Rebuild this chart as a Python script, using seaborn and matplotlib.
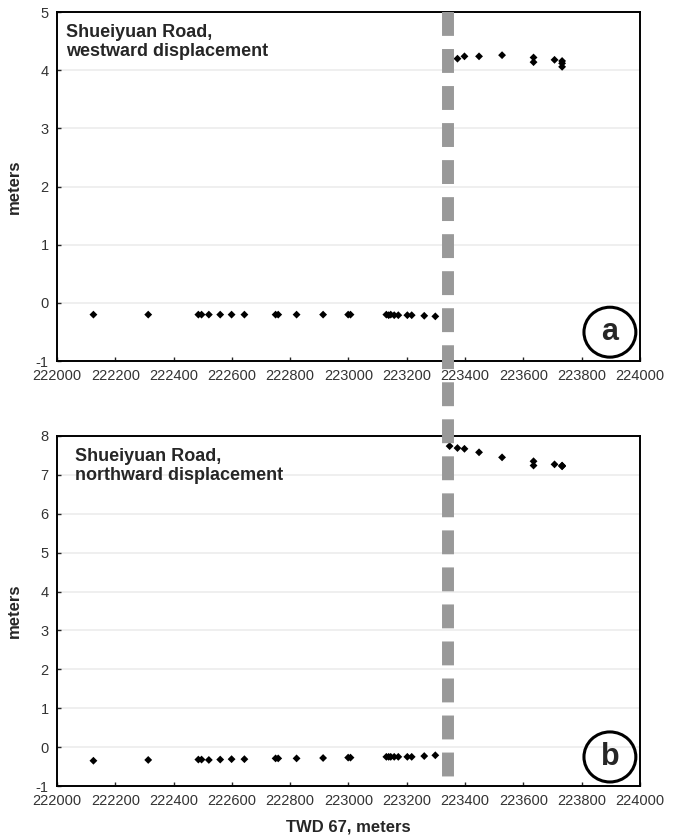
import numpy as np
import pandas as pd
import seaborn as sns
from matplotlib import pyplot as plt
from matplotlib.lines import Line2D
from matplotlib.patches import Ellipse
from matplotlib.transforms import blended_transform_factory

# TWD 67 easting of surveyed points along Shueiyuan Road
easting = [222125, 222313, 222485, 222496, 222521, 222560, 222599, 222643,
           222750, 222759, 222822, 222913, 222999, 223007, 223130, 223138,
           223145, 223157, 223171, 223202, 223217, 223260, 223298,
           223347, 223374, 223398, 223448, 223527, 223635, 223635,
           223707, 223733, 223733, 223733]

west_disp = [-0.20, -0.20, -0.20, -0.20, -0.20, -0.20, -0.20, -0.20,
             -0.20, -0.20, -0.20, -0.20, -0.20, -0.20, -0.20, -0.21,
             -0.20, -0.21, -0.21, -0.21, -0.21, -0.22, -0.23,
             4.20, 4.20, 4.24, 4.24, 4.26, 4.22, 4.14,
             4.18, 4.16, 4.12, 4.06]

north_disp = [-0.35, -0.33, -0.32, -0.32, -0.33, -0.32, -0.31, -0.31,
              -0.29, -0.29, -0.29, -0.28, -0.27, -0.27, -0.25, -0.25,
              -0.25, -0.25, -0.25, -0.25, -0.25, -0.23, -0.21,
              7.74, 7.69, 7.67, 7.58, 7.45, 7.35, 7.24,
              7.27, 7.24, 7.22, 7.23]

fault_x = 223340

panels = [
    dict(y=west_disp, ylim=(-1, 5), title='Shueiyuan Road,\nwestward displacement',
         tx=0.016, tag='a', rect=[0.0832, 0.568, 0.851, 0.4175]),
    dict(y=north_disp, ylim=(-1, 8), title='Shueiyuan Road,\nnorthward displacement',
         tx=0.031, tag='b', rect=[0.0832, 0.0598, 0.851, 0.4187]),
]

sns.set_style('white')
plt.rcParams['font.family'] = ['Liberation Sans', 'DejaVu Sans']
plt.rcParams['axes.unicode_minus'] = False

fig = plt.figure(figsize=(6.85, 8.36), dpi=100)

axes = []
for p in panels:
    ax = fig.add_axes(p['rect'])
    df = pd.DataFrame({'x': easting, 'y': p['y']})
    sns.scatterplot(data=df, x='x', y='y', marker='D', s=16, color='black',
                    edgecolor='none', ax=ax, zorder=3)
    ax.set_xlim(222000, 224000)
    ax.set_ylim(*p['ylim'])
    ax.set_xticks(np.arange(222000, 224001, 200))
    ax.set_yticks(np.arange(p['ylim'][0], p['ylim'][1] + 1, 1))
    ax.yaxis.grid(True, color='#ececec', linewidth=1.2)
    ax.xaxis.grid(False)
    for s in ax.spines.values():
        s.set_color('black')
        s.set_linewidth(1.4)
    ax.tick_params(axis='both', direction='in', length=3, width=1,
                   labelsize=10.5, labelcolor='#333333', pad=6,
                   bottom=True, left=True)
    ax.set_xlabel('')
    ax.set_ylabel('meters', fontsize=12, fontweight='bold', labelpad=10)
    ax.text(p['tx'], 0.965, p['title'], transform=ax.transAxes, ha='left',
            va='top', fontsize=13, fontweight='bold', linespacing=1.1)
    ax.add_patch(Ellipse((0.9485, 0.083), 0.089, 0.143, transform=ax.transAxes,
                         fill=False, edgecolor='black', linewidth=2.2, zorder=5))
    ax.text(0.9485, 0.083, p['tag'], transform=ax.transAxes, ha='center',
            va='center', fontsize=22, fontweight='bold', zorder=6)
    axes.append(ax)

axes[1].set_xlabel('TWD 67, meters', fontsize=12, fontweight='bold', labelpad=8)

# fault trace drawn across both panels
trans = blended_transform_factory(axes[0].transData, fig.transFigure)
fault = Line2D([fault_x, fault_x], [1 - 12 / 836, 1 - 782 / 836], transform=trans,
               color='#999999', linewidth=8.6, linestyle=(0, (2.0, 1.1)),
               solid_capstyle='butt', dash_capstyle='butt', zorder=10)
fig.add_artist(fault)

fig.savefig('out.png', dpi=100)
